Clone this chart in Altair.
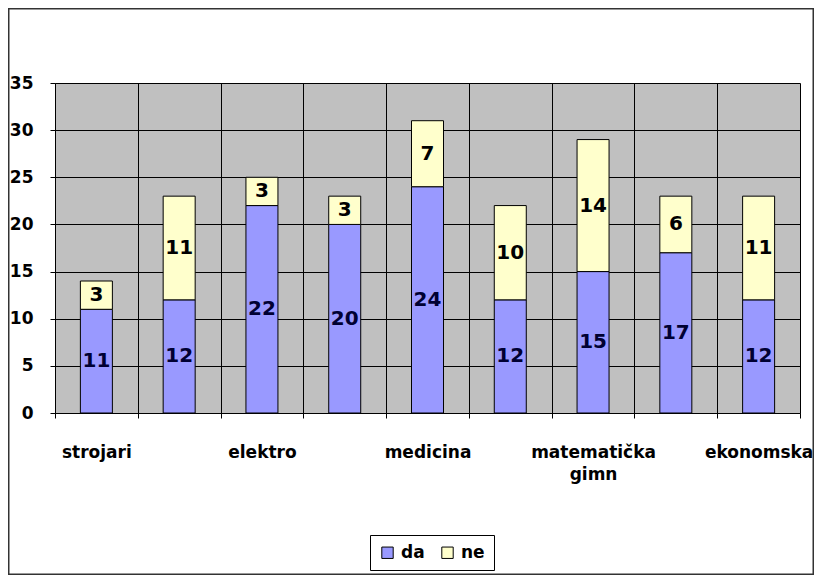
import json
import altair as alt
import pandas as pd

# ---- data ----
categories = ["strojari", "škola 2", "elektro", "škola 4", "medicina",
              "škola 6", "matematička gimn", "škola 8", "ekonomska"]
shown_labels = ["strojari", "", "elektro", "", "medicina", "",
                ["matematička", "gimn"], "", "ekonomska"]
series = ["da", "ne"]
da_values = [11, 12, 22, 20, 24, 12, 15, 17, 12]
ne_values = [3, 11, 3, 3, 7, 10, 14, 6, 11]
y_ticks = [0, 5, 10, 15, 20, 25, 30, 35]

rows = []
for cat, d, n in zip(categories, da_values, ne_values):
    rows.append({"category": cat, "series": "da", "value": d,
                 "start": 0, "end": d, "mid": d / 2, "ord": 0})
    rows.append({"category": cat, "series": "ne", "value": n,
                 "start": d, "end": d + n, "mid": d + n / 2, "ord": 1})
df = pd.DataFrame(rows)

label_map = json.dumps(dict(zip(categories, shown_labels)), ensure_ascii=False)

FONT = "DejaVu Sans"

x_enc = alt.X(
    "category:N", sort=categories, title=None,
    scale=alt.Scale(paddingInner=0, paddingOuter=0),
    axis=alt.Axis(
        labelExpr=f"{label_map}[datum.label]",
        tickBand="extent", grid=True, gridColor="black", gridWidth=1,
        labelAngle=0, labelFontSize=17, labelPadding=26, labelLineHeight=22,
        labelFont=FONT, labelFontWeight="bold", labelColor="black",
        tickColor="black", tickSize=5, domainColor="black",
    ),
)

y_scale = alt.Scale(domain=[0, 35], nice=False)

bars = alt.Chart(df).mark_bar(size=32, stroke="black", strokeWidth=1).encode(
    x=x_enc,
    y=alt.Y("start:Q", scale=y_scale, title=None,
            axis=alt.Axis(values=y_ticks, grid=True, gridColor="black",
                          gridWidth=1, labelFontSize=17, labelFont=FONT,
                          labelFontWeight="bold", labelColor="black",
                          labelPadding=17, tickColor="black", tickSize=5,
                          domainColor="black")),
    y2="end:Q",
    color=alt.Color(
        "series:N",
        scale=alt.Scale(domain=series, range=["#9999FF", "#FFFFCC"]),
        legend=alt.Legend(
            title=None, orient="none", legendX=315, legendY=452,
            direction="horizontal", strokeColor="black", fillColor="white",
            padding=9, symbolType="square", symbolSize=130,
            symbolStrokeColor="black", symbolStrokeWidth=1,
            labelFontSize=17, labelFont=FONT, labelFontWeight="bold",
            labelColor="black", columnPadding=14, labelOffset=5,
        ),
    ),
    order=alt.Order("ord:Q"),
)

texts = alt.Chart(df).mark_text(
    font=FONT, fontSize=20, fontWeight="bold", baseline="middle"
).encode(
    x=alt.X("category:N", sort=categories),
    y=alt.Y("mid:Q", scale=y_scale),
    text="value:Q",
    color=alt.condition(alt.datum.series == "da",
                        alt.value("#000033"), alt.value("black")),
)

border = alt.Chart(pd.DataFrame({"k": [0]})).mark_rect(
    fill="transparent", stroke="#333333", strokeWidth=1.5
).encode(
    x=alt.value(-46.25), x2=alt.value(758.25),
    y=alt.value(-74.25), y2=alt.value(491.25),
)

chart = alt.layer(bars, texts, border).properties(
    width=745, height=330,
    padding={"left": 47, "top": 75, "right": 14, "bottom": 162},
    autosize=alt.AutoSizeParams(type="none"),
    background="white",
).configure_view(fill="#C0C0C0", stroke="transparent")

chart.save("out.html", embed_options={"renderer": "svg", "actions": False})
